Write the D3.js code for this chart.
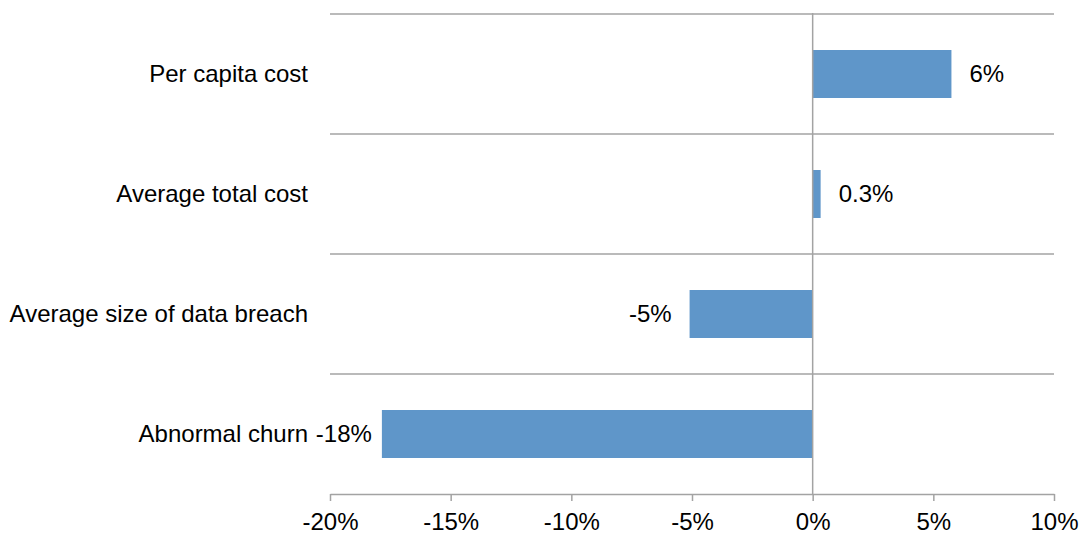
<!DOCTYPE html>
<html>
<head>
<meta charset="utf-8">
<script src="https://cdn.jsdelivr.net/npm/d3@7"></script>
<style>
  body { margin: 0; background: #fff; }
  text { font-family: "Liberation Sans", Arial, sans-serif; fill: #000; }
</style>
</head>
<body>
<div id="chart"></div>
<script>
// categories top to bottom
var categories = ["Per capita cost", "Average total cost", "Average size of data breach", "Abnormal churn"];
var values = [5.75, 0.33, -5.1, -17.85];
var valueLabels = ["6%", "0.3%", "-5%", "-18%"];
var ticks = [-20, -15, -10, -5, 0, 5, 10];

var width = 1083, height = 536;
var plotLeft = 330, plotRight = 1054, plotTop = 14, plotBottom = 494;
var fontSize = 24;

var svg = d3.select("#chart").append("svg")
    .attr("width", width)
    .attr("height", height);

var x = d3.scaleLinear().domain([-20, 10]).range([plotLeft, plotRight]);
var y = d3.scaleBand().domain(categories).range([plotTop, plotBottom])
    .paddingInner(0.6).paddingOuter(0.3);

var grid = "#a3a3a3";

// horizontal separators between categories
var step = y.step();
var seps = d3.range(categories.length).map(function(i) { return plotTop + i * step; });
svg.selectAll("line.sep")
    .data(seps)
    .enter().append("line")
    .attr("class", "sep")
    .attr("x1", plotLeft).attr("x2", plotRight)
    .attr("y1", function(d) { return d; })
    .attr("y2", function(d) { return d; })
    .attr("stroke", grid)
    .attr("stroke-width", 1.5);

// bars
svg.selectAll("rect.bar")
    .data(values)
    .enter().append("rect")
    .attr("class", "bar")
    .attr("x", function(d) { return x(Math.min(0, d)); })
    .attr("width", function(d) { return Math.abs(x(d) - x(0)); })
    .attr("y", function(d, i) { return y(categories[i]); })
    .attr("height", y.bandwidth())
    .attr("fill", "#5f96c9");

// zero line
svg.append("line")
    .attr("x1", x(0)).attr("x2", x(0))
    .attr("y1", plotTop - 1).attr("y2", plotBottom)
    .attr("stroke", grid)
    .attr("stroke-width", 1.5);

// bottom axis
var axis = d3.axisBottom(x)
    .tickValues(ticks)
    .tickSize(7)
    .tickSizeOuter(0)
    .tickPadding(12)
    .tickFormat(function(d) { return d + "%"; });

var ax = svg.append("g")
    .attr("transform", "translate(0," + plotBottom + ")")
    .call(axis);
ax.select(".domain").attr("stroke", grid).attr("stroke-width", 1.5);
ax.selectAll(".tick line").attr("stroke", grid).attr("stroke-width", 1.5);
ax.selectAll(".tick text")
    .attr("font-size", fontSize)
    .attr("font-family", "Liberation Sans, Arial, sans-serif")
    .attr("fill", "#000");

// category labels
svg.selectAll("text.cat")
    .data(categories)
    .enter().append("text")
    .attr("class", "cat")
    .attr("x", 308)
    .attr("y", function(d) { return y(d) + y.bandwidth() / 2; })
    .attr("dy", "0.35em")
    .attr("text-anchor", "end")
    .attr("font-size", fontSize)
    .text(function(d) { return d; });

// value labels
svg.selectAll("text.val")
    .data(values)
    .enter().append("text")
    .attr("class", "val")
    .attr("x", function(d, i) {
        var gap = (i === values.length - 1) ? 10 : 18;
        return d >= 0 ? x(d) + gap : x(d) - gap;
    })
    .attr("y", function(d, i) { return y(categories[i]) + y.bandwidth() / 2; })
    .attr("dy", "0.35em")
    .attr("text-anchor", function(d) { return d >= 0 ? "start" : "end"; })
    .attr("font-size", fontSize)
    .text(function(d, i) { return valueLabels[i]; });
</script>
</body>
</html>
